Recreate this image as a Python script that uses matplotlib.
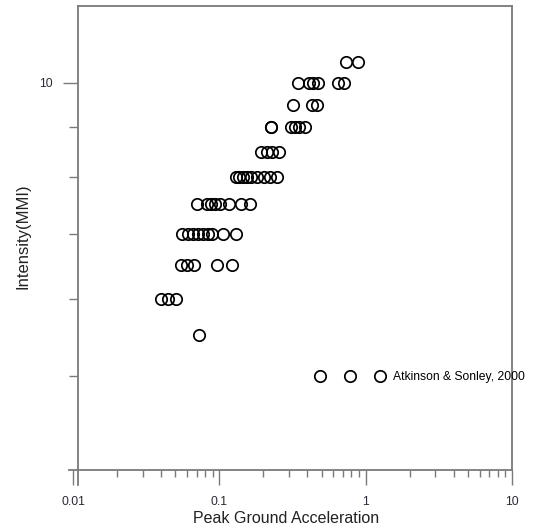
import matplotlib
matplotlib.use('Agg')
from matplotlib import pyplot as plt
from matplotlib.ticker import FixedLocator, LogLocator, NullFormatter

# PGA (g) and intensity readings, row by row
pga = [0.73, 0.88,
       0.344, 0.409, 0.435, 0.471, 0.645, 0.708,
       0.318, 0.430, 0.465,
       0.226, 0.226, 0.309, 0.329, 0.350, 0.385,
       0.193, 0.212, 0.230, 0.256,
       0.131, 0.137, 0.146, 0.155, 0.165, 0.181, 0.202, 0.222, 0.248,
       0.0708, 0.0828, 0.0882, 0.0939, 0.1016, 0.117, 0.141, 0.163,
       0.056, 0.0615, 0.0665, 0.0719, 0.0778, 0.0841, 0.0896, 0.106, 0.131,
       0.0551, 0.0605, 0.0675, 0.0969, 0.1225,
       0.0397, 0.0443, 0.0502,
       0.073]
mmi = [10.5, 10.5,
       10, 10, 10, 10, 10, 10,
       9.5, 9.5, 9.5,
       9, 9, 9, 9, 9, 9,
       8.5, 8.5, 8.5, 8.5,
       8, 8, 8, 8, 8, 8, 8, 8, 8,
       7.5, 7.5, 7.5, 7.5, 7.5, 7.5, 7.5, 7.5,
       7, 7, 7, 7, 7, 7, 7, 7, 7,
       6.5, 6.5, 6.5, 6.5, 6.5,
       6, 6, 6,
       5.5]
series_label = 'Atkinson & Sonley, 2000'
x_ticks = [0.01, 0.1, 1, 10]
x_tick_labels = ['0.01', '0.1', '1', '10']
y_ticks = [10]
y_minor = [5, 6, 7, 8, 9]

plt.rcParams['font.family'] = ['Liberation Sans', 'DejaVu Sans']
axis_col = '#7a7a7a'
text_col = '#2a2a3a'

W, H = 553, 529
fig = plt.figure(figsize=(W / 100, H / 100), dpi=100)
ax = fig.add_axes([69 / W, (H - 485) / H, (512 - 69) / W, (485 - 6) / H])

ax.plot(pga, mmi, 'o', linestyle='none', mfc='none', mec='black',
        ms=8.2, mew=1.25, label=series_label)

ax.set_xscale('log')
ax.set_yscale('log')
ax.set_xlim(0.00939, 10)
ax.set_ylim(3.86, 12)

# grapher-style axes: y axis sits a bit right of 0.01, x axis at MMI 4
ax.spines['left'].set_position(('data', 0.0108))
ax.spines['bottom'].set_position(('data', 4))
ax.spines['top'].set_bounds(0.0108, 10)
ax.spines['right'].set_bounds(4, 12)
for s in ax.spines.values():
    s.set_color(axis_col)
    s.set_linewidth(1.3)

ax.xaxis.set_major_locator(FixedLocator(x_ticks))
ax.set_xticklabels(x_tick_labels)
ax.xaxis.set_minor_locator(LogLocator(base=10, subs=range(2, 10)))
ax.xaxis.set_minor_formatter(NullFormatter())
ax.yaxis.set_major_locator(FixedLocator(y_ticks))
ax.set_yticklabels(['10'])
ax.yaxis.set_minor_locator(FixedLocator(y_minor))
ax.yaxis.set_minor_formatter(NullFormatter())

ax.tick_params(axis='x', which='major', direction='out', length=10.8, width=1,
               color=axis_col, labelsize=8.8, labelcolor=text_col, pad=8)
ax.tick_params(axis='x', which='minor', direction='out', length=5, width=1, color=axis_col)
ax.tick_params(axis='y', which='major', direction='out', length=10.8, width=1,
               color=axis_col, labelsize=8.8, labelcolor=text_col, pad=7)
ax.tick_params(axis='y', which='minor', direction='out', length=6.5, width=1, color=axis_col)

ax.set_xlabel('Peak Ground Acceleration', fontsize=11.5, color='#222222')
ax.xaxis.set_label_coords((286 - 69) / 443, (485 - 511) / 479)
ax.set_ylabel('Intensity(MMI)', fontsize=12, color='#222222')
ax.yaxis.set_label_coords((31 - 69) / 443, (485 - 236) / 479)

ax.legend(loc='center left', bbox_to_anchor=(316 / W, 1 - 377 / H),
          bbox_transform=fig.transFigure, frameon=False, numpoints=3,
          handlelength=5.6, handletextpad=0.75, borderpad=0, borderaxespad=0,
          prop={'size': 8.7})

fig.savefig('out.png', dpi=100)
